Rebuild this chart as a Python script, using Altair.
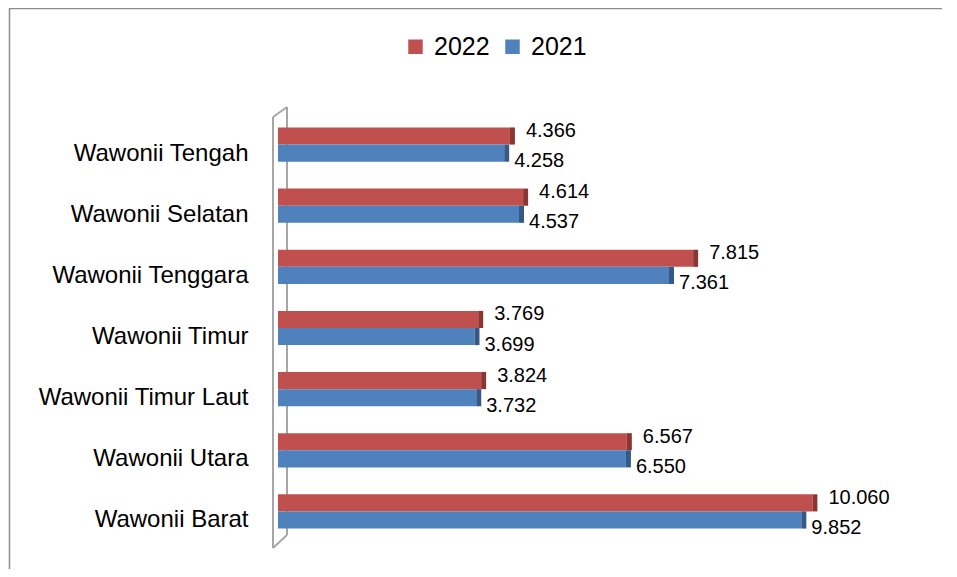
import altair as alt
import pandas as pd

categories = ["Wawonii Tengah", "Wawonii Selatan", "Wawonii Tenggara", "Wawonii Timur",
              "Wawonii Timur Laut", "Wawonii Utara", "Wawonii Barat"]
values_2022 = [4.366, 4.614, 7.815, 3.769, 3.824, 6.567, 10.060]
values_2021 = [4.258, 4.537, 7.361, 3.699, 3.732, 6.550, 9.852]
years = ["2022", "2021"]
colors = ["#C0504D", "#4F81BD"]
side_colors = ["#8C3633", "#355A88"]

rows = []
for c, a, b in zip(categories, values_2022, values_2021):
    rows.append({"kecamatan": c, "tahun": "2022", "nilai": a})
    rows.append({"kecamatan": c, "tahun": "2021", "nilai": b})
df = pd.DataFrame(rows)

FONT = "Liberation Sans, Arial, sans-serif"

W, H = 664, 428
PAD_L, PAD_T, PAD_B = 270, 106, 27

y_enc = alt.Y("kecamatan:N", sort=categories,
              scale=alt.Scale(paddingInner=0.44, paddingOuter=0.22),
              axis=alt.Axis(title=None, labelFontSize=24, labelFont=FONT, labelColor="#000",
                            labelPadding=30, ticks=False, domain=False, labelLimit=400,
                            labelOffset=9, grid=False))
y_off = alt.YOffset("tahun:N", sort=years, scale=alt.Scale(paddingInner=0, paddingOuter=0))
x_enc = alt.X("nilai:Q", scale=alt.Scale(domain=[0, 12.5], nice=False, zero=True), axis=None)

blank = alt.Data(values=[{}])
frame_color = "#8C8C8C"
wall_color = "#A6A6A6"

frame_left = alt.Chart(blank).mark_rule(color=frame_color, strokeWidth=1.5).encode(
    x=alt.value(-268.5), y=alt.value(-106), y2=alt.value(H + PAD_B))
frame_top = alt.Chart(blank).mark_rule(color=frame_color, strokeWidth=1.5).encode(
    x=alt.value(-268.5), x2=alt.value(W), y=alt.value(-105.5))

wall_front = alt.Chart(blank).mark_rule(color=wall_color, strokeWidth=2).encode(
    x=alt.value(-5), y=alt.value(3), y2=alt.value(434))
wall_back = alt.Chart(blank).mark_rule(color=wall_color, strokeWidth=2).encode(
    x=alt.value(9), y=alt.value(-7), y2=alt.value(421))
wall_top = alt.Chart(blank).mark_rule(color=wall_color, strokeWidth=2).encode(
    x=alt.value(-5), y=alt.value(3), x2=alt.value(9), y2=alt.value(-7))
wall_bot = alt.Chart(blank).mark_rule(color=wall_color, strokeWidth=2).encode(
    x=alt.value(-5), y=alt.value(434), x2=alt.value(9), y2=alt.value(421))

bars = alt.Chart(df).mark_bar().encode(
    x=x_enc, y=y_enc, yOffset=y_off,
    color=alt.Color("tahun:N", sort=years, scale=alt.Scale(domain=years, range=colors),
                    legend=alt.Legend(orient="none", legendX=125, legendY=-80,
                                      direction="horizontal", title=None,
                                      symbolType="square", symbolSize=210,
                                      labelFontSize=25, labelFont=FONT, labelColor="#000",
                                      columnPadding=10, labelOffset=6,
                                      symbolStrokeWidth=0)))

sides = alt.Chart(df).mark_bar(x2Offset=5).encode(
    x=x_enc, x2="nilai:Q", y=y_enc, yOffset=y_off,
    color=alt.Color("tahun:N", sort=years, scale=alt.Scale(domain=years, range=side_colors),
                    legend=None))

lab_2022 = alt.Chart(df).transform_filter("datum.tahun == '2022'").mark_text(
    align="left", baseline="middle", dx=16, dy=-5, fontSize=20, font=FONT, color="#000"
).encode(x=x_enc, y=y_enc, yOffset=y_off, text=alt.Text("nilai:Q", format=".3f"))

lab_2021 = alt.Chart(df).transform_filter("datum.tahun == '2021'").mark_text(
    align="left", baseline="middle", dx=10, dy=8, fontSize=20, font=FONT, color="#000"
).encode(x=x_enc, y=y_enc, yOffset=y_off, text=alt.Text("nilai:Q", format=".3f"))

chart = alt.layer(
    frame_left, frame_top, wall_back, wall_front, wall_top, wall_bot,
    bars, sides, lab_2022, lab_2021
).resolve_scale(color="independent").properties(
    width=W, height=H,
    padding={"left": PAD_L, "top": PAD_T, "right": 0, "bottom": PAD_B},
    autosize=alt.AutoSizeParams(type="none"),
    background="white",
).configure_view(stroke=None)

chart.save("out.html", embed_options={"renderer": "svg", "actions": False})
